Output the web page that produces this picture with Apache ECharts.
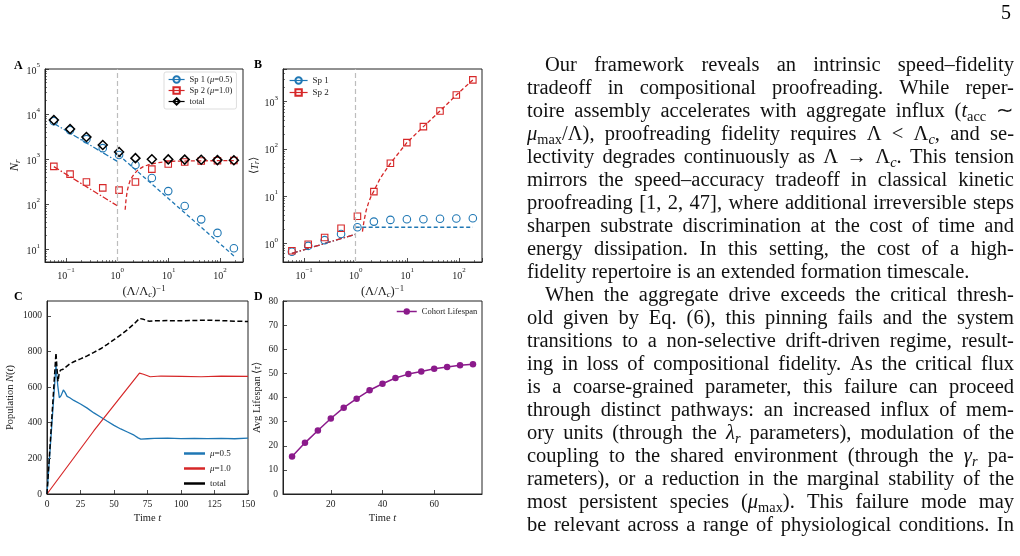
<!DOCTYPE html>
<html>
<head>
<meta charset="utf-8">
<script src="https://cdn.jsdelivr.net/npm/echarts@6/dist/echarts.min.js"></script>
<style>
  html, body { margin: 0; padding: 0; background: #fff; }
  #chart { position: absolute; left: 0; top: 0; width: 1020px; height: 556px; }
  #text {
    position: absolute; left: 527px; top: 53px; width: 487px;
    font-family: 'Liberation Serif', 'Times New Roman', serif; font-size: 20.5px; color: #111;
  }
  .ln { display: flex; justify-content: space-between; height: 23px; line-height: 23px; white-space: nowrap; }
  .ln.ind { padding-left: 18px; }
  .ln.last { justify-content: flex-start; gap: 0.27em; }
  .ln sub { font-size: 0.7em; vertical-align: -0.25em; line-height: 0; }
  #page { position: absolute; left: 1001px; top: 1px; font-family: 'Liberation Serif', serif; font-size: 20px; }
</style>
</head>
<body>
<div id="chart"></div>
<div id="text"></div>
<div id="page">5</div>
<script>
// ---- panel A / B : shared x, (Λ/Λc)^-1
const invLambda = [0.058, 0.12, 0.25, 0.52, 1.08, 2.25, 4.7, 9.8, 20.5, 43, 89, 186]
const criticalX = 1

// A: N_r
const nSp1 = [6950, 4400, 2770, 1750, 1230, 740, 380, 195, 91, 46, 23, 10.5]
const nSp2 = [690, 465, 310, 230, 205, 310, 600, 780, 860, 910, 920, 930]
const nTotal = [7400, 4650, 3100, 2050, 1440, 1050, 990, 985, 975, 965, 950, 940]
const nFit1LowX = [0.058, 1.0]
const nFit1LowY = [6200, 890]
const nFit1HighX = [1.05, 186]
const nFit1HighY = [1250, 7.1]
const nFit2LowX = [0.058, 1.0]
const nFit2LowY = [680, 92]
const nFit2HighX = [1.42, 1.47, 1.55, 1.65, 1.8, 2.1, 2.5, 3.2, 4.5, 7, 12, 30, 186]
const nFit2HighY = [75, 120, 190, 260, 350, 460, 570, 680, 780, 850, 895, 915, 925]

// B: <T_r>
const tSp1 = [0.66, 0.88, 1.16, 1.57, 2.18, 2.87, 3.12, 3.22, 3.22, 3.3, 3.35, 3.39]
const tSp2 = [0.69, 0.95, 1.32, 2.08, 3.73, 12.4, 49.5, 135, 295, 630, 1380, 2880]
const tFitLowX = [0.058, 1.0]
const tFitLowY = [0.61, 1.55]
const tFit1HighX = [1.0, 186]
const tFit1HighY = [2.18, 2.18]
const tFit2HighX = [1.35, 1.45, 1.6, 1.8, 2.0, 2.25, 3.0, 4.7, 9.8, 20.5, 43, 89, 186]
const tFit2HighY = [1.76, 3.0, 5.0, 7.6, 10, 12.8, 24, 49, 135, 295, 630, 1380, 2880]

// C: population vs time
const popBlueT = [0, 6.7, 8, 9.2, 10.5, 12.2, 13.5, 15, 17, 20, 25, 30, 35, 40, 45, 50, 55, 60, 65, 68, 70, 75, 80, 90, 100, 110, 120, 130, 140, 150]
const popBlue = [0, 722, 610, 540, 552, 584, 570, 548, 540, 525, 505, 482, 455, 432, 408, 385, 365, 348, 330, 315, 308, 310, 312, 313, 311, 312, 311, 312, 310, 313]
const popRedT = [0, 35, 69, 72, 77, 85, 100, 115, 130, 150]
const popRed = [0, 355, 678, 672, 658, 662, 660, 658, 662, 660]
const popTotalT = [0, 6.7, 7.5, 8.2, 9, 10, 12, 14, 17, 20, 25, 30, 35, 40, 45, 50, 55, 60, 65, 69, 72, 76, 80, 90, 100, 110, 120, 130, 140, 150]
const popTotal = [0, 792, 700, 632, 672, 695, 700, 712, 730, 742, 758, 775, 795, 815, 840, 866, 893, 922, 955, 985, 980, 970, 972, 973, 972, 974, 975, 973, 970, 968]

// D: cohort lifespan
const cohortT = [5, 10, 15, 20, 25, 30, 35, 40, 45, 50, 55, 60, 65, 70, 75]
const cohortLife = [15.5, 21.2, 26.3, 31.3, 35.8, 39.5, 43.0, 45.7, 48.1, 49.7, 50.8, 51.9, 52.6, 53.4, 53.8]

const blue = '#1f77b4'
const red = '#d62728'
const purple = '#8b1a8b'
const ink = '#222'
const serif = "'Liberation Serif', 'Times New Roman', serif"
const dashDot = [6, 2, 1.5, 2]
const dashed = [4, 2.5]

const pairs = (xs, ys) => xs.map((x, i) => [x, ys[i]])

const rich = {
  b: { fontSize: 10, fontFamily: serif, color: ink, lineHeight: 14, verticalAlign: 'bottom' },
  sup: { fontSize: 7, fontFamily: serif, color: ink, lineHeight: 7, verticalAlign: 'top' }
}

const logFmt = v => {
  const e = Math.log10(v)
  const r = Math.round(e)
  if (Math.abs(e - r) > 0.01) return ''
  return '{b|10}{sup|' + (r < 0 ? '\u2212' + (-r) : r) + '}'
}

const makeNameStyle = size => ({
  fontFamily: serif, fontSize: size, color: ink,
  rich: {
    i: { fontStyle: 'italic', fontFamily: serif, fontSize: size, color: ink },
    sub: { fontStyle: 'italic', fontFamily: serif, fontSize: size * 0.7, color: ink, padding: [size * 0.45, 0, 0, 0] },
    sup: { fontFamily: serif, fontSize: size * 0.7, color: ink, padding: [0, 0, size * 0.55, 0] }
  }
})
const nameStyle = makeNameStyle(10.5)
const bigNameStyle = makeNameStyle(12.5)

const baseAxis = (gridIndex, extra) => Object.assign({
  gridIndex,
  axisLine: { show: true, lineStyle: { color: ink, width: 1 } },
  axisTick: { show: true, inside: true, length: 4, lineStyle: { color: ink, width: 0.8 } },
  splitLine: { show: false },
  axisLabel: { color: ink, fontFamily: serif, fontSize: 9.5, margin: 5 },
  nameLocation: 'middle',
  nameTextStyle: nameStyle
}, extra)

const logAxis = (gridIndex, min, max, extra) => baseAxis(gridIndex, Object.assign({
  type: 'log', logBase: 10, min, max,
  minorTick: { show: true, splitNumber: 9, length: 2, lineStyle: { color: ink, width: 0.6 } },
  axisLabel: { color: ink, fontFamily: serif, fontSize: 10, margin: 5, formatter: logFmt, rich },
  nameTextStyle: bigNameStyle
}, extra))

const fitLine = (name, xi, yi, xs, ys, color, type) => ({
  name, type: 'line', xAxisIndex: xi, yAxisIndex: yi,
  data: pairs(xs, ys), showSymbol: false, symbol: 'none', smooth: false,
  lineStyle: { color, width: 1.3, type }, itemStyle: { color }, z: 2
})

const markerLine = (name, xi, yi, xs, ys, color, symbol, size) => ({
  name, type: 'line', xAxisIndex: xi, yAxisIndex: yi,
  data: pairs(xs, ys), symbol, symbolSize: size, showSymbol: true,
  lineStyle: { width: 0, color },
  itemStyle: { color: 'rgba(0,0,0,0)', borderColor: color, borderWidth: 1.1 }, z: 3
})

const critLine = () => ({
  silent: true, symbol: 'none', label: { show: false },
  lineStyle: { color: '#bdbdbd', type: [5, 3], width: 1.2 },
  data: [{ xAxis: criticalX }]
})

const muFmt = name => name.replace('μ', '{i|μ}')

const legendItem = (name, color) => ({ name, lineStyle: { color, width: 1.2, opacity: 1, type: 'solid' } })

const option = {
  animation: false,
  backgroundColor: '#fff',
  grid: [
    { left: 45, top: 69, width: 198, height: 193 },
    { left: 283, top: 69, width: 199, height: 193 },
    { left: 47, top: 301, width: 201, height: 193 },
    { left: 283, top: 301, width: 199, height: 193 }
  ].map(g => Object.assign({ show: true, borderColor: ink, borderWidth: 1, backgroundColor: 'transparent' }, g)),
  xAxis: [
    logAxis(0, 0.039, 280, { name: '(Λ/Λ{sub|c}){sup|\u22121}', nameGap: 22 }),
    logAxis(1, 0.039, 280, { name: '(Λ/Λ{sub|c}){sup|\u22121}', nameGap: 22 }),
    baseAxis(2, { type: 'value', min: 0, max: 150, interval: 25, name: 'Time {i|t}', nameGap: 19 }),
    baseAxis(3, {
      type: 'value', min: 1.5, max: 78.5, minInterval: 20, maxInterval: 20,
      axisLabel: { color: ink, fontFamily: serif, fontSize: 9.5, margin: 5, showMinLabel: false, showMaxLabel: false },
      name: 'Time {i|t}', nameGap: 19
    })
  ],
  yAxis: [
    logAxis(0, 5.2, 100000, { name: '{i|N}{sub|r}', nameGap: 23 }),
    logAxis(1, 0.4, 4900, { name: '⟨{i|T}{sub|r}⟩', nameGap: 22, nameTextStyle: nameStyle }),
    baseAxis(2, {
      type: 'value', min: 0, max: 1083, interval: 200,
      axisLabel: { color: ink, fontFamily: serif, fontSize: 9.5, margin: 5, showMaxLabel: false, formatter: v => String(v) },
      name: 'Population {i|N}({i|t})', nameGap: 31
    }),
    baseAxis(3, { type: 'value', min: 0, max: 80, interval: 10, name: 'Avg Lifespan ⟨{i|τ}⟩', nameGap: 20 })
  ],
  legend: [
    {
      left: 164, top: 72, orient: 'vertical', itemWidth: 16, itemHeight: 8, itemGap: 2,
      padding: [3, 4, 3, 4], borderColor: '#d4d4d4', borderWidth: 0.8, borderRadius: 2,
      textStyle: { fontFamily: serif, fontSize: 8.5, color: ink, rich: { i: { fontStyle: 'italic', fontFamily: serif, fontSize: 8.5 } } },
      formatter: muFmt,
      data: [legendItem('Sp 1 (μ=0.5)', blue), legendItem('Sp 2 (μ=1.0)', red), legendItem('total', '#000')]
    },
    {
      left: 287, top: 74, orient: 'vertical', itemWidth: 18, itemHeight: 8, itemGap: 3, padding: 2,
      textStyle: { fontFamily: serif, fontSize: 9, color: ink },
      data: [legendItem('Sp 1', blue), legendItem('Sp 2', red)]
    },
    {
      left: 182, top: 447, orient: 'vertical', icon: 'rect', itemWidth: 21, itemHeight: 2.5, itemGap: 6, padding: 2,
      textStyle: { fontFamily: serif, fontSize: 9, color: ink, rich: { i: { fontStyle: 'italic', fontFamily: serif, fontSize: 9 } } },
      formatter: muFmt,
      data: ['μ=0.5', 'μ=1.0', 'total ']
    },
    {
      left: 394, top: 305, orient: 'vertical', itemWidth: 20, itemHeight: 8, padding: 2,
      textStyle: { fontFamily: serif, fontSize: 8.5, color: ink },
      data: [{ name: 'Cohort Lifespan', lineStyle: { color: purple, width: 1.5 } }]
    }
  ],
  graphic: [
    { type: 'text', left: 14, top: 60, style: { text: 'A', font: 'bold 12px ' + serif, fill: '#000' } },
    { type: 'text', left: 254, top: 59, style: { text: 'B', font: 'bold 12px ' + serif, fill: '#000' } },
    { type: 'text', left: 14, top: 291, style: { text: 'C', font: 'bold 12px ' + serif, fill: '#000' } },
    { type: 'text', left: 254, top: 291, style: { text: 'D', font: 'bold 12px ' + serif, fill: '#000' } }
  ],
  series: [
    // A fits
    Object.assign(fitLine('fitA1lo', 0, 0, nFit1LowX, nFit1LowY, blue, dashDot), { markLine: critLine() }),
    fitLine('fitA2lo', 0, 0, nFit2LowX, nFit2LowY, red, dashDot),
    fitLine('fitA1hi', 0, 0, nFit1HighX, nFit1HighY, blue, dashed),
    fitLine('fitA2hi', 0, 0, nFit2HighX, nFit2HighY, red, dashed),
    // A markers
    markerLine('Sp 1 (μ=0.5)', 0, 0, invLambda, nSp1, blue, 'circle', 7.5),
    markerLine('Sp 2 (μ=1.0)', 0, 0, invLambda, nSp2, red, 'rect', 6.5),
    Object.assign(markerLine('total', 0, 0, invLambda, nTotal, '#000', 'diamond', 9), { itemStyle: { color: 'rgba(0,0,0,0)', borderColor: '#000', borderWidth: 1.5 } }),
    // B fits
    Object.assign(fitLine('fitB1lo', 1, 1, tFitLowX, tFitLowY, blue, dashDot), { markLine: critLine() }),
    fitLine('fitB2lo', 1, 1, tFitLowX, tFitLowY, red, dashDot),
    fitLine('fitB1hi', 1, 1, tFit1HighX, tFit1HighY, blue, dashed),
    fitLine('fitB2hi', 1, 1, tFit2HighX, tFit2HighY, red, dashed),
    // B markers
    markerLine('Sp 1', 1, 1, invLambda, tSp1, blue, 'circle', 7.5),
    markerLine('Sp 2', 1, 1, invLambda, tSp2, red, 'rect', 6.5),
    // C
    { name: 'μ=0.5', type: 'line', xAxisIndex: 2, yAxisIndex: 2, data: pairs(popBlueT, popBlue), showSymbol: false, symbol: 'none', lineStyle: { color: blue, width: 1.3 }, itemStyle: { color: blue } },
    { name: 'μ=1.0', type: 'line', xAxisIndex: 2, yAxisIndex: 2, data: pairs(popRedT, popRed), showSymbol: false, symbol: 'none', lineStyle: { color: red, width: 1.2 }, itemStyle: { color: red } },
    { name: 'total ', type: 'line', xAxisIndex: 2, yAxisIndex: 2, data: pairs(popTotalT, popTotal), showSymbol: false, symbol: 'none', lineStyle: { color: '#000', width: 1.5, type: [5, 2.5] }, itemStyle: { color: '#000' } },
    // D
    { name: 'Cohort Lifespan', type: 'line', xAxisIndex: 3, yAxisIndex: 3, data: pairs(cohortT, cohortLife), symbol: 'circle', symbolSize: 6.5, lineStyle: { color: purple, width: 1.5 }, itemStyle: { color: purple } }
  ]
}

const chart = echarts.init(document.getElementById('chart'), null, { renderer: 'canvas' })
chart.setOption(option)

// ---- running text in the right column
const textLines = [
  ['ind', 'Our framework reveals an intrinsic speed–fidelity'],
  ['', 'tradeoff in compositional proofreading. While reper-'],
  ['', 'toire assembly accelerates with aggregate influx (<i>t</i><sub>acc</sub> ∼'],
  ['', '<i>μ</i><sub>max</sub>/Λ), proofreading fidelity requires Λ &lt; Λ<sub><i>c</i></sub>, and se-'],
  ['', 'lectivity degrades continuously as Λ → Λ<sub><i>c</i></sub>. This tension'],
  ['', 'mirrors the speed–accuracy tradeoff in classical kinetic'],
  ['', 'proofreading [1, 2, 47], where additional irreversible steps'],
  ['', 'sharpen substrate discrimination at the cost of time and'],
  ['', 'energy dissipation. In this setting, the cost of a high-'],
  ['last', 'fidelity repertoire is an extended formation timescale.'],
  ['ind', 'When the aggregate drive exceeds the critical thresh-'],
  ['', 'old given by Eq. (6), this pinning fails and the system'],
  ['', 'transitions to a non-selective drift-driven regime, result-'],
  ['', 'ing in loss of compositional fidelity. As the critical flux'],
  ['', 'is a coarse-grained parameter, this failure can proceed'],
  ['', 'through distinct pathways: an increased influx of mem-'],
  ['', 'ory units (through the <i>λ</i><sub><i>r</i></sub> parameters), modulation of the'],
  ['', 'coupling to the shared environment (through the <i>γ</i><sub><i>r</i></sub> pa-'],
  ['', 'rameters), or a reduction in the marginal stability of the'],
  ['', 'most persistent species (<i>μ</i><sub>max</sub>). This failure mode may'],
  ['', 'be relevant across a range of physiological conditions. In']
]

const textBox = document.getElementById('text')
textLines.forEach(([cls, html]) => {
  const row = document.createElement('div')
  row.className = 'ln' + (cls ? ' ' + cls : '')
  html.split(' ').forEach(w => {
    const s = document.createElement('span')
    s.innerHTML = w
    row.appendChild(s)
  })
  textBox.appendChild(row)
})
</script>
</body>
</html>
